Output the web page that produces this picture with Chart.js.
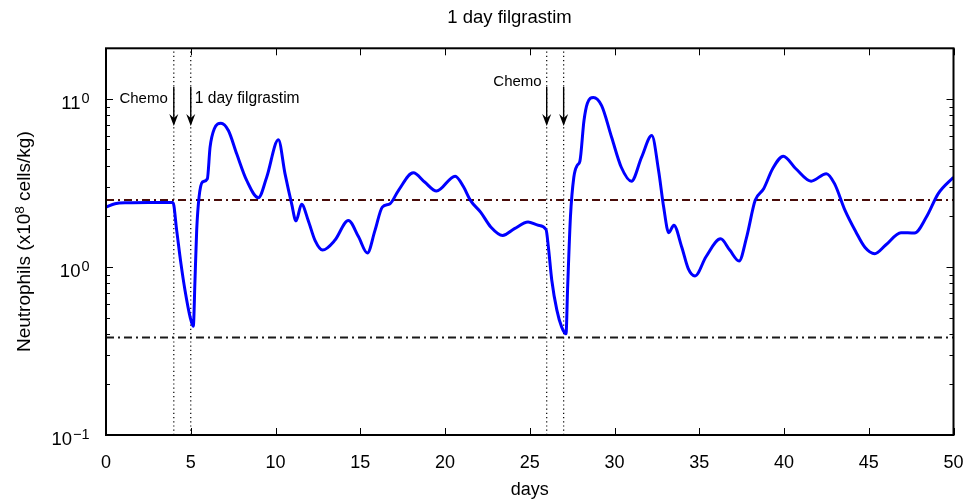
<!DOCTYPE html>
<html>
<head>
<meta charset="utf-8">
<script src="https://cdn.jsdelivr.net/npm/chart.js@4/dist/chart.umd.min.js"></script>
<style>
  html, body { margin: 0; padding: 0; background: #fff; }
  #wrap { width: 965px; height: 502px; }
</style>
</head>
<body>
<div id="wrap"><canvas id="c" width="965" height="502"></canvas></div>
<script>
// Simulated neutrophil count (x10^8 cells/kg) over 50 days, two chemo cycles
const days = [
  0, 0.53, 1.3, 2.5, 3.95,
  4.17, 4.42, 4.66, 4.96, 5.15,
  5.25, 5.35, 5.49, 5.69, 5.98,
  6.14, 6.39, 6.78, 7.22, 7.71,
  8.3, 8.99, 9.48, 10.17, 10.56,
  10.95, 11.21, 11.54, 11.93, 12.33,
  12.78, 13.5, 14.3, 14.9, 15.42,
  15.87, 16.3, 16.76, 17.25, 18.13,
  18.8, 19.5, 20.6, 21.1, 21.5,
  22.1, 22.7, 23.4, 24.1, 24.9,
  25.5, 25.96, 26.1, 26.3, 26.6,
  26.88, 27.14, 27.23, 27.4, 27.6,
  27.8, 27.96, 28.2, 28.4, 28.75,
  29.24, 29.83, 30.4, 31.0, 31.6,
  32.2, 32.6, 32.9, 33.2, 33.5,
  33.97, 34.35, 34.75, 35.4, 36.26,
  36.8, 37.35, 37.8, 38.3, 38.8,
  39.33, 39.96, 40.7, 41.6, 42.5,
  42.98, 43.6, 44.25, 44.77, 45.35,
  46.0, 46.9, 47.7, 48.4, 49.1,
  50
];
const neutrophils = [
  2.27, 2.38, 2.41, 2.42, 2.42,
  1.65, 1.05, 0.727, 0.505, 0.444,
  0.834, 1.65, 2.6, 3.2, 3.35,
  5.16, 6.64, 7.16, 6.48, 4.71,
  3.27, 2.58, 3.42, 5.71, 3.59,
  2.38, 1.88, 2.36, 1.89, 1.44,
  1.26, 1.44, 1.89, 1.51, 1.21,
  1.65, 2.27, 2.38, 2.85, 3.63,
  3.2, 2.83, 3.47, 2.99, 2.49,
  2.12, 1.73, 1.54, 1.69, 1.85,
  1.77, 1.67, 1.31, 0.834, 0.553,
  0.44, 0.40, 0.727, 1.98, 3.42,
  4.02, 4.26, 7.43, 9.42, 10.2,
  9.12, 5.91, 3.92, 3.24, 4.5,
  6.05, 3.75, 2.27, 1.6, 1.77,
  1.31, 0.978, 0.884, 1.15, 1.47,
  1.26, 1.085, 1.51, 2.49, 2.92,
  3.84, 4.56, 3.84, 3.24, 3.59,
  3.13, 2.17, 1.61, 1.31, 1.2,
  1.35, 1.6, 1.59, 1.98, 2.73,
  3.42
];

// Reference levels (dash-dot lines)
const upperLevel = 2.5;
const lowerLevel = 0.38;

// Dosing days
const chemoDays = [4, 26];
const filgrastimDays = [5, 27];

// Axis ticks
const xTicks = [0, 5, 10, 15, 20, 25, 30, 35, 40, 45, 50];
const yTicks = [0.1, 0.2, 0.3, 0.4, 0.5, 0.6, 0.7, 0.8, 0.9,
                1, 2, 3, 4, 5, 6, 7, 8, 9, 10, 20];
const yMajor = [0.1, 1, 10];
// decade labels as [base, exponent]
const yMajorBase = ['10', '10', '11'];
const yMajorExp = ['\u22121', '0', '0'];

const FONT = '"Liberation Sans", Arial, Helvetica, sans-serif';

const curve = days.map((d, i) => ({ x: d, y: neutrophils[i] }));
const hLine = v => [{ x: 0, y: v }, { x: 50, y: v }];
const vLine = d => [{ x: d, y: 0.1 }, { x: d, y: 20 }];

const datasets = [];
[...chemoDays, ...filgrastimDays].forEach(d => {
  datasets.push({
    data: vLine(d), borderColor: '#000', borderWidth: 1.2,
    borderDash: [1.2, 3], pointRadius: 0, order: 3
  });
});
datasets.push({
  data: hLine(upperLevel), borderColor: '#4a0d0a', borderWidth: 2,
  borderDash: [8, 4, 2, 4], pointRadius: 0, order: 2
});
datasets.push({
  data: hLine(lowerLevel), borderColor: '#1a1a1a', borderWidth: 2,
  borderDash: [8, 4, 2, 4], pointRadius: 0, order: 2
});
datasets.push({
  data: curve, borderColor: '#0000ff', borderWidth: 3,
  cubicInterpolationMode: 'monotone', pointRadius: 0, order: 1
});

// Frame, inward tick marks, decade labels, titles and dosing annotations
const decorations = {
  id: 'decorations',
  afterDraw(chart) {
    const { ctx, chartArea: a, scales: { x, y } } = chart;
    ctx.save();
    ctx.strokeStyle = '#000';
    ctx.lineWidth = 1;
    ctx.beginPath();
    yTicks.forEach(v => {
      const py = Math.round(y.getPixelForValue(v)) + 0.5;
      const len = yMajor.includes(v) ? 7 : 4;
      ctx.moveTo(a.left, py); ctx.lineTo(a.left + len, py);
      ctx.moveTo(a.right, py); ctx.lineTo(a.right - len, py);
    });
    xTicks.forEach(v => {
      const px = Math.round(x.getPixelForValue(v)) + 0.5;
      ctx.moveTo(px, a.top); ctx.lineTo(px, a.top + 7);
      ctx.moveTo(px, a.bottom); ctx.lineTo(px, a.bottom - 7);
    });
    ctx.stroke();

    ctx.lineWidth = 2;
    ctx.strokeRect(a.left, a.top, a.right - a.left, a.bottom - a.top);

    ctx.fillStyle = '#000';

    // decade labels with raised exponents
    ctx.textBaseline = 'alphabetic';
    ctx.textAlign = 'right';
    yMajor.forEach((v, i) => {
      const py = y.getPixelForValue(v);
      const right = a.left - 16.5;
      ctx.font = '14.5px ' + FONT;
      const ew = ctx.measureText(yMajorExp[i]).width;
      ctx.fillText(yMajorExp[i], right, py + 4);
      ctx.font = '18.5px ' + FONT;
      ctx.fillText(yMajorBase[i], right - ew - 1, py + 10);
    });

    // y-axis title (rotated) with superscript exponent
    ctx.save();
    ctx.translate(25, (a.top + a.bottom) / 2);
    ctx.rotate(-Math.PI / 2);
    ctx.textAlign = 'left';
    ctx.textBaseline = 'middle';
    const parts = [['Neutrophils (x10', 19, 0], ['8', 13.5, -5], [' cells/kg)', 19, 0]];
    let total = 0;
    parts.forEach(p => { ctx.font = p[1] + 'px ' + FONT; p.push(ctx.measureText(p[0]).width); total += p[3]; });
    let cx = -total / 2;
    parts.forEach(p => { ctx.font = p[1] + 'px ' + FONT; ctx.fillText(p[0], cx, p[2]); cx += p[3]; });
    ctx.restore();

    // title
    ctx.font = '18.5px ' + FONT;
    ctx.textAlign = 'center';
    ctx.textBaseline = 'middle';
    ctx.fillText('1 day filgrastim', 509.5, 18);

    // arrows
    const arrow = (px, y0, y1) => {
      ctx.lineWidth = 1.4;
      ctx.beginPath();
      ctx.moveTo(px, y0); ctx.lineTo(px, y1 - 6);
      ctx.stroke();
      ctx.beginPath();
      ctx.moveTo(px, y1);
      ctx.lineTo(px - 4.5, y1 - 12);
      ctx.lineTo(px, y1 - 8);
      ctx.lineTo(px + 4.5, y1 - 12);
      ctx.closePath();
      ctx.fill();
    };
    [...chemoDays, ...filgrastimDays].forEach(d => {
      arrow(x.getPixelForValue(d), 87, 126);
    });

    ctx.font = '15px ' + FONT;
    ctx.textBaseline = 'middle';
    ctx.textAlign = 'right';
    ctx.fillText('Chemo', x.getPixelForValue(chemoDays[0]) - 6, 99);
    ctx.fillText('Chemo', x.getPixelForValue(chemoDays[1]) - 5, 82);
    ctx.textAlign = 'left';
    ctx.font = '15.6px ' + FONT;
    ctx.fillText('1 day filgrastim', x.getPixelForValue(filgrastimDays[0]) + 4, 99);
    ctx.restore();
  }
};

new Chart(document.getElementById('c'), {
  type: 'line',
  data: { datasets },
  plugins: [decorations],
  options: {
    responsive: false,
    animation: false,
    events: [],
    layout: { padding: { top: 48.3, right: 11.5, bottom: 0, left: 0 } },
    plugins: { legend: { display: false }, tooltip: { enabled: false }, title: { display: false } },
    scales: {
      x: {
        type: 'linear', min: 0, max: 50,
        afterBuildTicks: s => { s.ticks = xTicks.map(v => ({ value: v })); },
        afterFit: s => { s.height = 67; s.paddingLeft = 0; s.paddingRight = 0; },
        grid: { display: false, drawTicks: false },
        border: { display: false },
        ticks: { color: '#000', font: { family: FONT, size: 18 }, padding: 17, autoSkip: false, maxRotation: 0 },
        title: { display: true, text: 'days', color: '#000', font: { family: FONT, size: 18 }, padding: { top: 0, bottom: 1 } }
      },
      y: {
        type: 'logarithmic', min: 0.1, max: 20,
        afterBuildTicks: s => { s.ticks = yTicks.map(v => ({ value: v })); },
        afterFit: s => { s.width = 106; s.paddingTop = 0; s.paddingBottom = 0; },
        grid: { display: false, drawTicks: false },
        border: { display: false },
        ticks: { display: false },
        title: { display: false }
      }
    }
  }
});
</script>
</body>
</html>
